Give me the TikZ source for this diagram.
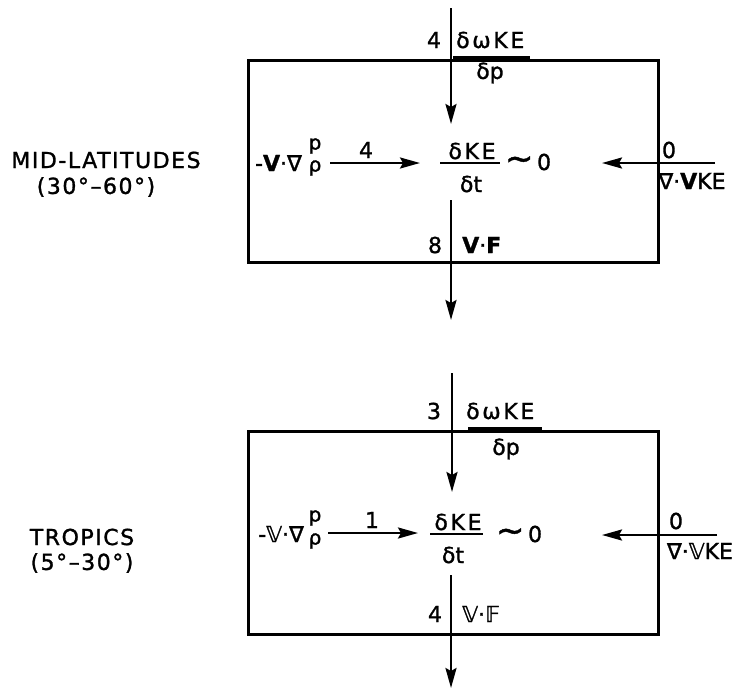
\documentclass[tikz,border=0pt]{standalone}
\usepackage{fontspec}
\setmainfont{DejaVu Sans}[FakeBold=1.3]
\usetikzlibrary{arrows.meta}
\tikzset{
  frame/.style={draw, line width=2.8pt, inner sep=0pt, anchor=north west},
  flow/.style={line width=2.4pt, -{Stealth[length=20pt,width=11pt,inset=3pt]}},
  lbl/.style={font=\fontsize{22}{22}\selectfont, inner sep=0pt},
  small/.style={font=\fontsize{20}{20}\selectfont, inner sep=0pt},
  wide/.style={font=\fontsize{22}{22}\selectfont\addfontfeature{LetterSpace=12}, inner sep=0pt},
  side/.style={font=\fontsize{22}{24}\selectfont\addfontfeature{LetterSpace=7}, inner sep=0pt},
  thickbar/.style={line width=3.4pt},
  fbar/.style={line width=2pt},
}
\newcommand\bigtilde{{\fontsize{34}{34}\selectfont ∼}}
\begin{document}
\begin{tikzpicture}[x=1pt,y=-1pt]
\useasboundingbox (0,0) rectangle (736,689);

% ---------- MID-LATITUDES ----------
\node[side] (mid) at (106,160) {MID-LATITUDES};
\node[side] (midr) at (96,187) {(30°–60°)};
\node[frame, minimum width=410pt, minimum height=202pt] (box1) at (247,59) {};

\coordinate (a1s) at (451,8);   \coordinate (a1e) at (451,124);
\draw[flow] (a1s) -- (a1e);
\node[lbl] (n1a) at (434,40) {4};
\node[wide, anchor=west] (dw1) at (456,40) {δωKE};
\coordinate (b1s) at (453,58); \coordinate (b1e) at (530,58);
\draw[thickbar] (b1s) -- (b1e);
\node[lbl] (dp1) at (490,73) {δp};

\node[lbl, anchor=east] (gv1) at (302,163) {-\textbf{V}·∇};
\node[small] (pp1) at (315,146) {p};
\node[small] (rh1) at (315,168) {ρ};
\coordinate (h1s) at (330,163); \coordinate (h1e) at (420,163);
\draw[flow] (h1s) -- (h1e);
\node[lbl] (n1b) at (366,150) {4};
\node[wide] (ke1) at (472,151) {δKE};
\coordinate (k1s) at (440,163); \coordinate (k1e) at (500,163);
\draw[fbar] (k1s) -- (k1e);
\node[lbl] (dt1) at (471,184) {δt};
\node[lbl] (zr1) at (528,162) {\bigtilde\,0};
\coordinate (r1s) at (715,163); \coordinate (r1e) at (602,163);
\draw[flow] (r1s) -- (r1e);
\node[lbl] (n1c) at (669,150) {0};
\node[lbl] (dv1) at (692,181) {∇·\textbf{V}KE};

\coordinate (d1s) at (451,200); \coordinate (d1e) at (451,320);
\draw[flow] (d1s) -- (d1e);
\node[lbl] (n1d) at (435,245) {8};
\node[lbl, anchor=west] (vf1) at (462,245) {\textbf{V}·\textbf{F}};

% ---------- TROPICS ----------
\node[side] (tro) at (82,537) {TROPICS};
\node[side] (tror) at (82,563) {(5°–30°)};
\node[frame, minimum width=410pt, minimum height=203pt] (box2) at (247,430) {};

\coordinate (a2s) at (452,373);   \coordinate (a2e) at (452,492);
\draw[flow] (a2s) -- (a2e);
\node[lbl] (n2a) at (434,411) {3};
\node[wide, anchor=west] (dw2) at (466,411) {δωKE};
\coordinate (b2s) at (468,429); \coordinate (b2e) at (542,429);
\draw[thickbar] (b2s) -- (b2e);
\node[lbl] (dp2) at (506,449) {δp};

\node[lbl, anchor=east] (gv2) at (304,534) {-𝕍·∇};
\node[small] (pp2) at (315,518) {p};
\node[small] (rh2) at (315,541) {ρ};
\coordinate (h2s) at (328,533); \coordinate (h2e) at (418,533);
\draw[flow] (h2s) -- (h2e);
\node[lbl] (n2b) at (372,520) {1};
\node[wide] (ke2) at (458,522) {δKE};
\coordinate (k2s) at (430,534); \coordinate (k2e) at (483,534);
\draw[fbar] (k2s) -- (k2e);
\node[lbl] (dt2) at (453,555) {δt};
\node[lbl] (zr2) at (519,534) {\bigtilde\,0};
\coordinate (r2s) at (717,535); \coordinate (r2e) at (602,535);
\draw[flow] (r2s) -- (r2e);
\node[lbl] (n2c) at (676,521) {0};
\node[lbl] (dv2) at (700,551) {∇·𝕍KE};

\coordinate (d2s) at (451,575); \coordinate (d2e) at (451,688);
\draw[flow] (d2s) -- (d2e);
\node[lbl] (n2d) at (435,614) {4};
\node[lbl, anchor=west] (vf2) at (462,614) {𝕍·𝔽};
\end{tikzpicture}
\end{document}
